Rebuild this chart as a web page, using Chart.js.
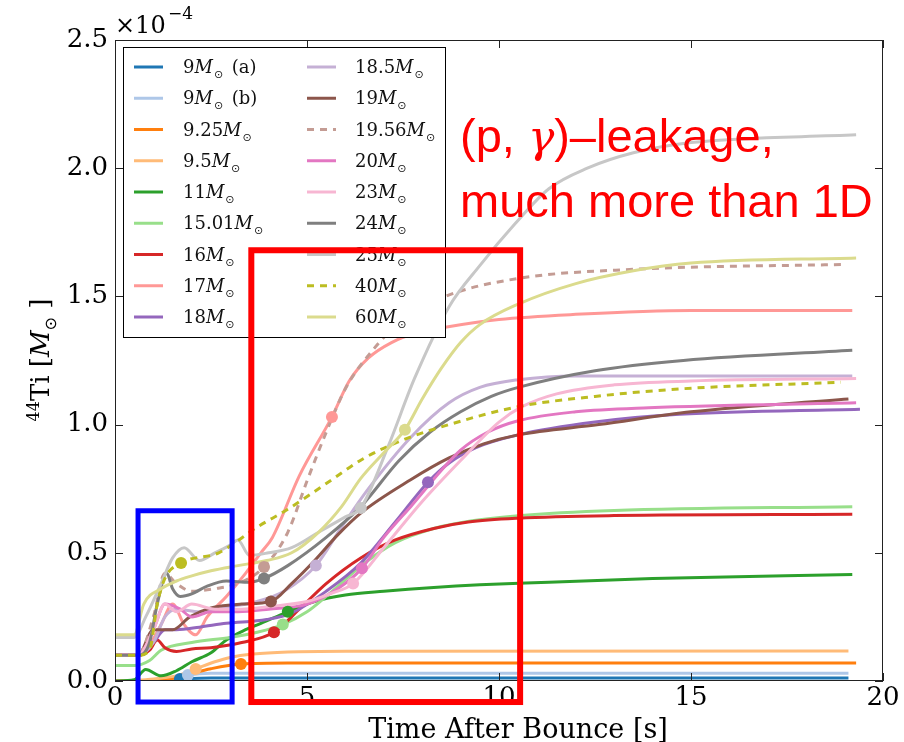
<!DOCTYPE html>
<html>
<head>
<meta charset="utf-8">
<script src="https://cdn.jsdelivr.net/npm/chart.js@4/dist/chart.umd.min.js"></script>
<style>
  body { margin: 0; background: #fff; }
  #wrap { width: 904px; height: 742px; position: relative; }
</style>
</head>
<body>
<div id="wrap"><canvas id="myChart"></canvas></div>
<script>
// 44Ti yield vs time after bounce, values in units of 1e-4 Msun, [time (s), yield]
const m9a = [[0,0],[1.0,0.002],[1.69,0.008],[2.5,0.012],[19.1,0.012]];
const m9b = [[0,0],[1.0,0.003],[1.5,0.01],[1.9,0.023],[2.5,0.03],[19.1,0.03]];
const m925 = [[0,0],[1.0,0.003],[1.5,0.01],[2.0,0.03],[2.5,0.048],[3.28,0.066],[4.5,0.07],[19.3,0.07]];
const m95 = [[0,0],[0.8,0.005],[1.2,0.012],[1.6,0.02],[2.1,0.047],[2.6,0.075],[3.0,0.092],[3.6,0.105],[4.5,0.113],[6,0.116],[19.1,0.117]];
const m11 = [[0,0],[0.5,0.005],[0.8,0.045],[1.2,0.02],[1.6,0.04],[2.0,0.075],[2.5,0.11],[2.9,0.16],[3.4,0.2],[3.8,0.225],[4.5,0.27],[5.2,0.31],[6,0.335],[7,0.35],[8.3,0.365],[9.5,0.375],[11.3,0.385],[14,0.4],[19.2,0.415]];
const m1501 = [[0,0.06],[0.5,0.06],[0.9,0.08],[1.2,0.12],[2.0,0.15],[3.0,0.17],[3.7,0.19],[4.37,0.22],[5.0,0.27],[5.5,0.33],[6.5,0.46],[7.3,0.54],[8.3,0.595],[9.3,0.625],[10.5,0.645],[13,0.665],[19.2,0.68]];
const m16 = [[0,0.1],[0.6,0.1],[0.9,0.12],[1.1,0.16],[1.3,0.13],[1.6,0.115],[2.0,0.125],[2.5,0.13],[3.3,0.15],[4.14,0.19],[4.8,0.28],[5.5,0.38],[6.4,0.48],[7.3,0.55],[8.3,0.595],[9.2,0.62],[10.5,0.635],[13,0.645],[19.2,0.65]];
const m17 = [[0,0.1],[0.6,0.1],[0.9,0.14],[1.2,0.22],[1.5,0.3],[1.8,0.22],[2.1,0.18],[2.4,0.25],[2.9,0.33],[3.4,0.42],[3.8,0.5],[4.1,0.56],[4.8,0.8],[5.65,1.03],[6.1,1.17],[6.6,1.26],[7.2,1.32],[7.9,1.36],[8.6,1.38],[10,1.41],[12,1.43],[15,1.445],[19.2,1.445]];
const m18 = [[0,0.1],[0.6,0.1],[1.0,0.15],[1.3,0.2],[1.6,0.2],[2.2,0.21],[2.9,0.225],[3.95,0.24],[4.6,0.265],[5.5,0.35],[6.4,0.46],[7.3,0.62],[8.15,0.775],[8.7,0.85],[9.4,0.91],[10.5,0.96],[12.5,1.01],[14.7,1.04],[19.4,1.06]];
const m185 = [[0,0.1],[0.6,0.1],[1.0,0.15],[1.3,0.25],[1.6,0.28],[2.2,0.27],[3.0,0.29],[3.7,0.31],[4.4,0.35],[5.23,0.45],[5.9,0.6],[6.6,0.75],[7.7,0.95],[8.7,1.085],[9.5,1.145],[10.5,1.175],[12,1.19],[19.2,1.19]];
const m19 = [[0,0.1],[0.6,0.1],[1.0,0.2],[1.5,0.2],[1.95,0.25],[2.5,0.285],[3.3,0.3],[4.06,0.31],[4.6,0.38],[5.2,0.47],[5.8,0.57],[6.4,0.655],[7.7,0.785],[8.7,0.87],[9.6,0.925],[10.5,0.96],[12.6,1.0],[15,1.05],[19.1,1.1]];
const m1956 = [[0,0.1],[0.6,0.1],[1.0,0.25],[1.3,0.42],[1.6,0.38],[2.0,0.35],[2.6,0.36],[3.2,0.38],[3.88,0.445],[4.5,0.58],[5.0,0.78],[5.5,0.97],[6.0,1.14],[6.6,1.27],[7.5,1.41],[8.6,1.5],[10.5,1.57],[13.4,1.605],[19.06,1.625]];
const m20 = [[0,0.1],[0.6,0.1],[1.0,0.2],[1.3,0.3],[1.7,0.28],[2.0,0.25],[2.5,0.27],[3.2,0.27],[4.0,0.28],[5.0,0.3],[5.8,0.36],[6.43,0.44],[7.0,0.56],[7.7,0.68],[9.0,0.9],[9.7,0.97],[10.5,1.015],[12,1.05],[13.9,1.066],[19.3,1.085]];
const m23 = [[0,0.1],[0.6,0.1],[1.0,0.2],[1.3,0.3],[1.6,0.27],[2.0,0.3],[2.6,0.28],[3.3,0.28],[4.0,0.29],[5.0,0.31],[5.6,0.34],[6.2,0.38],[7.0,0.52],[8.0,0.7],[9.0,0.86],[10.0,1.01],[10.6,1.07],[11.5,1.12],[13,1.155],[15,1.17],[19.3,1.18]];
const m24 = [[0,0.1],[0.6,0.1],[0.9,0.15],[1.1,0.3],[1.35,0.42],[1.5,0.36],[1.7,0.33],[2.0,0.34],[2.4,0.37],[2.9,0.39],[3.5,0.385],[3.88,0.4],[4.5,0.45],[5.5,0.56],[6.4,0.68],[7.4,0.86],[8.2,0.97],[9.0,1.05],[9.8,1.11],[10.5,1.145],[12.5,1.21],[14.8,1.25],[19.2,1.29]];
const m25 = [[0,0.17],[0.5,0.17],[0.8,0.25],[1.2,0.38],[1.5,0.48],[1.8,0.52],[2.2,0.47],[2.6,0.5],[3.0,0.53],[3.2,0.55],[3.5,0.49],[4.0,0.5],[4.6,0.52],[5.3,0.58],[6.0,0.64],[6.4,0.675],[7.1,0.91],[7.8,1.18],[8.7,1.46],[9.5,1.62],[10.4,1.78],[11.3,1.92],[12.3,2.0],[13.5,2.06],[15,2.1],[19.3,2.13]];
const m40 = [[0,0.1],[0.6,0.1],[0.9,0.12],[1.1,0.3],[1.3,0.4],[1.72,0.46],[2.7,0.5],[3.7,0.6],[4.5,0.67],[5.5,0.77],[6.5,0.87],[7.5,0.94],[8.7,1.0],[10.5,1.07],[12.5,1.11],[14.8,1.14],[18.9,1.165]];
const m60 = [[0,0.18],[0.5,0.18],[0.75,0.3],[1.2,0.36],[1.6,0.39],[2.0,0.41],[2.5,0.43],[3.2,0.45],[3.95,0.47],[4.6,0.5],[5.3,0.58],[5.9,0.68],[6.4,0.79],[7.0,0.89],[7.55,0.98],[8.0,1.1],[8.5,1.22],[9.0,1.32],[9.5,1.39],[10.5,1.47],[12,1.55],[13.5,1.6],[15,1.63],[19.3,1.65]];

const seriesLabels = ['9M⊙ (a)','9M⊙ (b)','9.25M⊙','9.5M⊙','11M⊙','15.01M⊙','16M⊙','17M⊙','18M⊙',
  '18.5M⊙','19M⊙','19.56M⊙','20M⊙','23M⊙','24M⊙','25M⊙','40M⊙','60M⊙'];
const seriesData = [m9a, m9b, m925, m95, m11, m1501, m16, m17, m18, m185, m19, m1956, m20, m23, m24, m25, m40, m60];
// one marked point per model
const markerTimes = [1.69, 1.9, 3.28, 2.1, 4.5, 4.37, 4.14, 5.65, 8.15, 5.23, 4.06, 3.88, 6.43, 6.2, 3.88, 6.4, 1.72, 7.55];
const markerValues = [0.008, 0.023, 0.066, 0.047, 0.27, 0.22, 0.19, 1.03, 0.775, 0.45, 0.31, 0.445, 0.44, 0.38, 0.4, 0.675, 0.46, 0.98];
const xTicks = [0, 5, 10, 15, 20];
const yTicks = [0, 0.5, 1.0, 1.5, 2.0, 2.5];

const colors = ['#1f77b4','#aec7e8','#ff7f0e','#ffbb78','#2ca02c','#98df8a','#d62728','#ff9896','#9467bd',
  '#c5b0d5','#8c564b','#c49c94','#e377c2','#f7b6d2','#7f7f7f','#c7c7c7','#bcbd22','#dbdb8d'];
const dashed = [11, 16];

const SERIF = '"DejaVu Serif", serif';
Chart.defaults.font.family = SERIF;
Chart.defaults.color = '#000';

const datasets = seriesData.map((pts, i) => ({
  label: seriesLabels[i],
  data: pts.map(p => ({x: p[0], y: p[1]})),
  borderColor: colors[i],
  borderWidth: 3,
  borderDash: dashed.includes(i) ? [7, 6] : [],
  pointRadius: 0,
  cubicInterpolationMode: 'monotone',
  fill: false,
  order: seriesData.length - i
}));
datasets.push({
  type: 'scatter',
  label: 'markers',
  data: markerTimes.map((t, i) => ({x: t, y: markerValues[i]})),
  pointRadius: 6,
  pointBackgroundColor: colors,
  pointBorderColor: colors,
  pointBorderWidth: 0,
  showLine: false,
  order: -1
});

function drawMass(ctx, label, x, base, size) {
  const parts = label.split('M⊙');
  ctx.font = size + 'px ' + SERIF;
  ctx.fillText(parts[0], x, base); x += ctx.measureText(parts[0]).width;
  ctx.font = 'italic ' + size + 'px ' + SERIF;
  ctx.fillText('M', x, base); x += ctx.measureText('M').width + 1;
  ctx.font = Math.round(size * 0.62) + 'px "DejaVu Sans"';
  ctx.fillText('⊙', x, base + size * 0.28); x += ctx.measureText('⊙').width + 3;
  if (parts[1]) {
    ctx.font = size + 'px ' + SERIF;
    ctx.fillText(parts[1], x, base);
  }
}

const overlay = {
  id: 'overlay',
  afterDraw(chart) {
    const {ctx, chartArea: a, scales: {x, y}} = chart;
    ctx.save();
    // frame + inward ticks
    ctx.strokeStyle = '#222';
    ctx.lineWidth = 1;
    ctx.strokeRect(a.left + 0.5, a.top + 0.5, a.width - 1, a.height - 1);
    ctx.beginPath();
    xTicks.forEach(t => {
      const px = Math.round(x.getPixelForValue(t)) + 0.5;
      ctx.moveTo(px, a.bottom); ctx.lineTo(px, a.bottom - 8);
      ctx.moveTo(px, a.top); ctx.lineTo(px, a.top + 8);
    });
    yTicks.forEach(v => {
      const py = Math.round(y.getPixelForValue(v)) + 0.5;
      ctx.moveTo(a.left, py); ctx.lineTo(a.left + 8, py);
      ctx.moveTo(a.right, py); ctx.lineTo(a.right - 8, py);
    });
    ctx.stroke();

    // legend, two columns
    ctx.fillStyle = '#fff';
    ctx.fillRect(123, 47, 322, 290);
    ctx.strokeStyle = '#000';
    ctx.strokeRect(123.5, 47.5, 322, 290);
    ctx.textAlign = 'left';
    ctx.textBaseline = 'alphabetic';
    seriesLabels.forEach((lab, i) => {
      const col = i < 9 ? 0 : 1;
      const row = i % 9;
      const cy = 67 + row * 31.25;
      const lx = col ? 307 : 134;
      ctx.strokeStyle = colors[i];
      ctx.lineWidth = 3;
      ctx.setLineDash(dashed.includes(i) ? [7, 6] : []);
      ctx.beginPath(); ctx.moveTo(lx, cy); ctx.lineTo(lx + 29, cy); ctx.stroke();
      ctx.setLineDash([]);
      ctx.fillStyle = '#111';
      drawMass(ctx, lab, col ? 355 : 183, cy + 6, 18);
    });

    // y axis title, rotated
    ctx.save();
    ctx.translate(40, 360);
    ctx.rotate(-Math.PI / 2);
    ctx.fillStyle = '#000';
    const s = 26;
    const segs = [['44', Math.round(s * 0.6) + 'px ' + SERIF, -s * 0.38], ['Ti [', s + 'px ' + SERIF, 0],
      ['M', 'italic ' + s + 'px ' + SERIF, 0], ['⊙', Math.round(s * 0.62) + 'px "DejaVu Sans"', s * 0.28], [' ]', s + 'px ' + SERIF, 0]];
    let w = 0;
    segs.forEach(g => { ctx.font = g[1]; w += ctx.measureText(g[0]).width; });
    let cx = -w / 2;
    segs.forEach(g => { ctx.font = g[1]; ctx.fillText(g[0], cx, 9 + g[2]); cx += ctx.measureText(g[0]).width; });
    ctx.restore();

    // x axis title and offset text
    ctx.fillStyle = '#000';
    ctx.font = '27px ' + SERIF;
    ctx.textAlign = 'center';
    ctx.fillText('Time After Bounce [s]', 518, 738);
    ctx.textAlign = 'left';
    ctx.font = '24px ' + SERIF;
    ctx.fillText('×10', 115, 33);
    ctx.font = '17px ' + SERIF;
    ctx.fillText('−4', 168, 19);

    // red annotation text
    ctx.fillStyle = '#ff0000';
    const sans = '"Liberation Sans", Arial, sans-serif';
    let tx = 460;
    ctx.font = '47px ' + sans;
    ctx.fillText('(p, ', tx, 152); tx += ctx.measureText('(p, ').width;
    ctx.font = 'italic 44px ' + SERIF;
    ctx.fillText('γ', tx, 152); tx += ctx.measureText('γ').width;
    ctx.font = '47px ' + sans;
    ctx.fillText(')–leakage,', tx, 152);
    ctx.fillText('much more than 1D', 460, 217);

    // highlight boxes in data coordinates
    ctx.lineWidth = 5;
    ctx.strokeStyle = '#0000ff';
    let x0 = x.getPixelForValue(0.6), x1 = x.getPixelForValue(3.05);
    let y0 = y.getPixelForValue(0.664), y1 = y.getPixelForValue(-0.082);
    ctx.strokeRect(x0, y0, x1 - x0, y1 - y0);
    ctx.lineWidth = 6;
    ctx.strokeStyle = '#ff0000';
    x0 = x.getPixelForValue(3.55); x1 = x.getPixelForValue(10.55);
    y0 = y.getPixelForValue(1.68);
    ctx.strokeRect(x0, y0, x1 - x0, y1 - y0);
    ctx.restore();
  }
};

new Chart(document.getElementById('myChart'), {
  type: 'line',
  data: { datasets: datasets },
  options: {
    responsive: true,
    maintainAspectRatio: false,
    animation: false,
    layout: { padding: { top: 40, right: 21, left: 0, bottom: 0 } },
    plugins: { legend: { display: false }, tooltip: { enabled: false } },
    scales: {
      x: {
        type: 'linear', min: 0, max: 20,
        afterFit: sc => { sc.height = 61; },
        afterBuildTicks: sc => { sc.ticks = xTicks.map(v => ({value: v})); },
        ticks: { font: { size: 26 }, color: '#000', padding: 2, maxRotation: 0 },
        grid: { drawOnChartArea: false, drawTicks: false },
        border: { display: false }
      },
      y: {
        min: 0, max: 2.5,
        afterFit: sc => { sc.width = 115; },
        afterBuildTicks: sc => { sc.ticks = yTicks.map(v => ({value: v})); },
        ticks: { font: { size: 26 }, color: '#000', padding: 7, callback: v => v.toFixed(1) },
        grid: { drawOnChartArea: false, drawTicks: false },
        border: { display: false }
      }
    }
  },
  plugins: [overlay]
});
</script>
</body>
</html>
